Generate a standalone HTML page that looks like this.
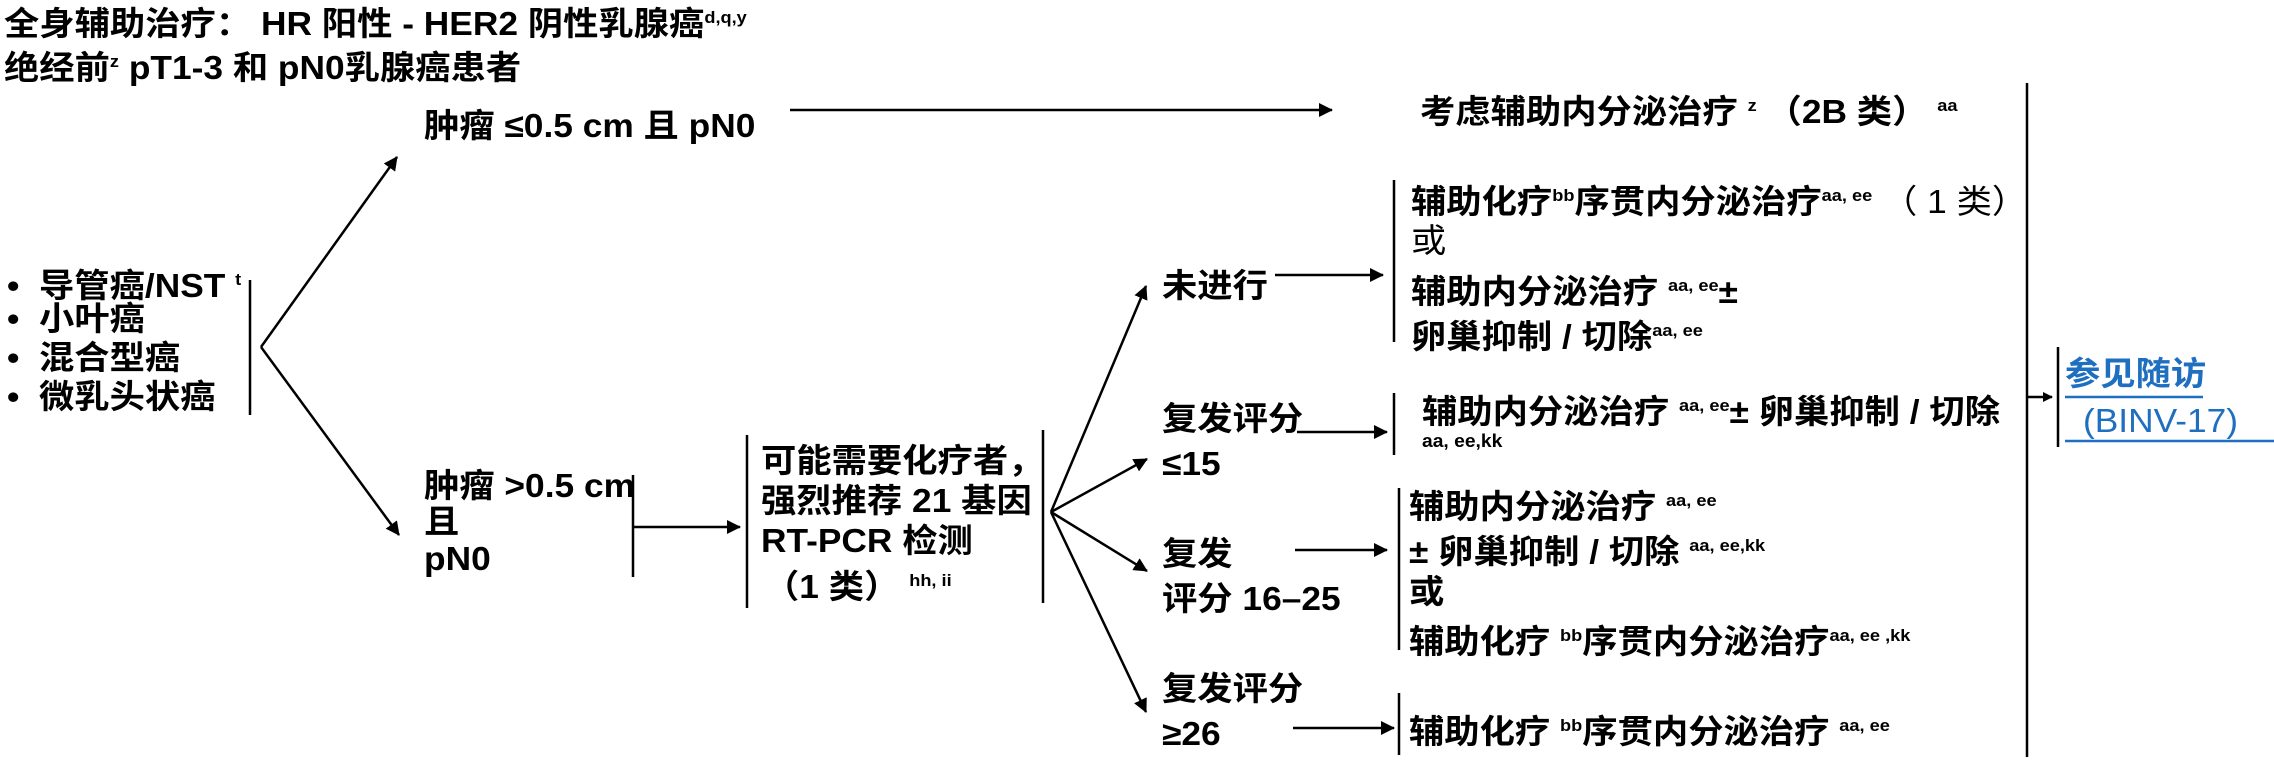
<!DOCTYPE html>
<html><head><meta charset="utf-8"><style>
html,body{margin:0;padding:0;background:#fff;}
body{width:2274px;height:768px;position:relative;overflow:hidden;font-family:"Liberation Sans","Noto Sans CJK SC",sans-serif;font-weight:bold;color:#000;}
.t{position:absolute;font-size:33px;line-height:33px;white-space:nowrap;transform:scaleX(1.07);transform-origin:0 0;}
.s{font-size:17px;vertical-align:12px;font-weight:bold;}
.n{font-weight:normal;}
svg{position:absolute;left:0;top:0;}
</style></head><body>
<svg width="2274" height="768" viewBox="0 0 2274 768">
<defs><marker id="a" markerWidth="10" markerHeight="10" refX="9" refY="5" orient="auto" markerUnits="userSpaceOnUse"><path d="M0,0 L10,5 L0,10 z" fill="#000"/></marker>
<marker id="b" markerWidth="14" markerHeight="14" refX="13" refY="7" orient="auto" markerUnits="userSpaceOnUse"><path d="M0,0 L14,7 L0,14 z" fill="#000"/></marker></defs>
<g stroke="#000" stroke-width="2.5" fill="none">
<line x1="790" y1="110" x2="1332" y2="110" marker-end="url(#b)"/>
<line x1="250" y1="280" x2="250" y2="415"/>
<line x1="261" y1="347" x2="397" y2="157" marker-end="url(#b)"/>
<line x1="261" y1="347" x2="399" y2="535" marker-end="url(#b)"/>
<line x1="633" y1="475" x2="633" y2="577"/>
<line x1="633" y1="527" x2="740" y2="527" marker-end="url(#b)"/>
<line x1="747" y1="435" x2="747" y2="608"/>
<line x1="1043" y1="430" x2="1043" y2="603"/>
<line x1="1051" y1="512" x2="1146" y2="286" marker-end="url(#b)"/>
<line x1="1051" y1="512" x2="1147" y2="459" marker-end="url(#b)"/>
<line x1="1051" y1="512" x2="1147" y2="571" marker-end="url(#b)"/>
<line x1="1051" y1="512" x2="1146" y2="712" marker-end="url(#b)"/>
<line x1="1275" y1="275" x2="1383" y2="275" marker-end="url(#b)"/>
<line x1="1394" y1="180" x2="1394" y2="342"/>
<line x1="1297" y1="432" x2="1387" y2="432" marker-end="url(#b)"/>
<line x1="1394" y1="393" x2="1394" y2="455"/>
<line x1="1295" y1="550" x2="1387" y2="550" marker-end="url(#b)"/>
<line x1="1399" y1="488" x2="1399" y2="650"/>
<line x1="1293" y1="728" x2="1394" y2="728" marker-end="url(#b)"/>
<line x1="1399" y1="693" x2="1399" y2="755"/>
<line x1="2027" y1="83" x2="2027" y2="757"/>
<line x1="2027" y1="397" x2="2052" y2="397" marker-end="url(#a)"/>
<line x1="2058" y1="347" x2="2058" y2="447"/>
</g>
<line x1="2065" y1="397" x2="2203" y2="397" stroke="#1f6fc0" stroke-width="2.5"/>
<line x1="2065" y1="441" x2="2274" y2="441" stroke="#1f6fc0" stroke-width="2.5"/>
</svg>

<div class="t" style="left:4px;top:1px;">全身辅助治疗： HR 阳性 - HER2 阴性乳腺癌<span class="s">d,q,y</span></div>
<div class="t" style="left:4px;top:45px;">绝经前<span class="s">z</span> pT1-3 和 pN0乳腺癌患者</div>
<div class="t" style="left:424px;top:109px;">肿瘤 ≤0.5 cm 且 pN0</div>
<div class="t" style="left:1420px;top:89px;">考虑辅助内分泌治疗 <span class="s">z</span> （2B 类） <span class="s">aa</span></div>

<div class="t" style="left:7px;top:263px;">•&nbsp; 导管癌/NST <span class="s">t</span></div>
<div class="t" style="left:7px;top:302px;">•&nbsp; 小叶癌</div>
<div class="t" style="left:7px;top:341px;">•&nbsp; 混合型癌</div>
<div class="t" style="left:7px;top:380px;">•&nbsp; 微乳头状癌</div>

<div class="t" style="left:424px;top:469px;">肿瘤 &gt;0.5 cm</div>
<div class="t" style="left:424px;top:505px;">且</div>
<div class="t" style="left:424px;top:542px;">pN0</div>

<div class="t" style="left:761px;top:444px;">可能需要化疗者，</div>
<div class="t" style="left:761px;top:484px;">强烈推荐 21 基因</div>
<div class="t" style="left:761px;top:524px;">RT-PCR 检测</div>
<div class="t" style="left:764px;top:564px;">（1 类） <span class="s">hh, ii</span></div>

<div class="t" style="left:1162px;top:269px;">未进行</div>
<div class="t" style="left:1411px;top:179px;">辅助化疗<span class="s">bb</span>序贯内分泌治疗<span class="s">aa, ee</span> <span class="n">（ 1 类）</span></div>
<div class="t n" style="left:1411px;top:224px;">或</div>
<div class="t" style="left:1411px;top:269px;">辅助内分泌治疗 <span class="s">aa, ee</span>±</div>
<div class="t" style="left:1411px;top:314px;">卵巢抑制 / 切除<span class="s">aa, ee</span></div>

<div class="t" style="left:1162px;top:402px;">复发评分</div>
<div class="t" style="left:1162px;top:447px;">≤15</div>
<div class="t" style="left:1422px;top:389px;">辅助内分泌治疗 <span class="s">aa, ee</span>± 卵巢抑制 / 切除</div>
<div class="t" style="left:1422px;top:432px;font-size:18px;line-height:18px;">aa, ee,kk</div>

<div class="t" style="left:1162px;top:537px;">复发</div>
<div class="t" style="left:1162px;top:582px;">评分 16–25</div>
<div class="t" style="left:1409px;top:484px;">辅助内分泌治疗 <span class="s">aa, ee</span></div>
<div class="t" style="left:1409px;top:529px;">± 卵巢抑制 / 切除 <span class="s">aa, ee,kk</span></div>
<div class="t" style="left:1409px;top:575px;">或</div>
<div class="t" style="left:1409px;top:619px;">辅助化疗 <span class="s">bb</span>序贯内分泌治疗<span class="s">aa, ee ,kk</span></div>

<div class="t" style="left:1162px;top:672px;">复发评分</div>
<div class="t" style="left:1162px;top:717px;">≥26</div>
<div class="t" style="left:1409px;top:709px;">辅助化疗 <span class="s">bb</span>序贯内分泌治疗 <span class="s">aa, ee</span></div>

<div class="t" style="left:2065px;top:357px;color:#1f6fc0;">参见随访</div>
<div class="t" style="left:2083px;top:404px;color:#1f6fc0;font-weight:normal;">(BINV-17)</div>
</body></html>
